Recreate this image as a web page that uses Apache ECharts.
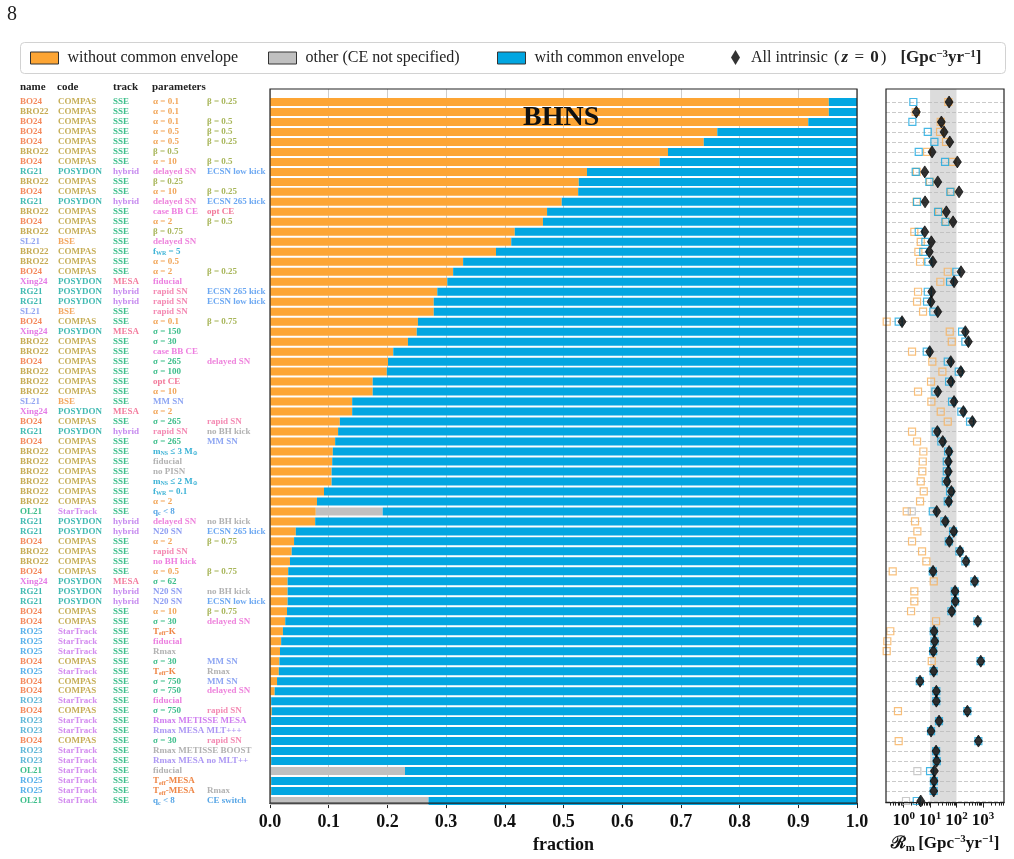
<!DOCTYPE html>
<html>
<head>
<meta charset="utf-8">
<script src="https://cdn.jsdelivr.net/npm/echarts@6/dist/echarts.min.js"></script>
<style>
  html, body { margin: 0; background: #fff; }
  #chart { width: 1014px; height: 859px; }
</style>
</head>
<body>
<div id="chart"></div>
<script>
// one entry per row, top to bottom
const names = ['BO24','BRO22','BO24','BO24','BO24','BRO22','BO24','RG21','BRO22','BO24',
  'RG21','BRO22','BO24','BRO22','SL21','BRO22','BRO22','BO24','Xing24','RG21',
  'RG21','SL21','BO24','Xing24','BRO22','BRO22','BO24','BRO22','BRO22','BRO22',
  'SL21','Xing24','BO24','RG21','BO24','BRO22','BRO22','BRO22','BRO22','BRO22',
  'BRO22','OL21','RG21','RG21','BO24','BRO22','BRO22','BO24','Xing24','RG21',
  'RG21','BO24','BO24','RO25','RO25','RO25','BO24','RO25','BO24','BO24',
  'RO23','BO24','RO23','RO23','BO24','RO23','RO23','OL21','RO25','RO25','OL21'];

const codeOf = { BO24: 'COMPAS', BRO22: 'COMPAS', RG21: 'POSYDON', Xing24: 'POSYDON',
  SL21: 'BSE', OL21: 'StarTrack', RO25: 'StarTrack', RO23: 'StarTrack' };
const trackOf = { BO24: 'SSE', BRO22: 'SSE', RG21: 'hybrid', Xing24: 'MESA',
  SL21: 'SSE', OL21: 'SSE', RO25: 'SSE', RO23: 'SSE' };

const params1 = ['α = 0.1','α = 0.1','α = 0.1','α = 0.5','α = 0.5','β = 0.5','α = 10','delayed SN','β = 0.25','α = 10',
  'delayed SN','case BB CE','α = 2','β = 0.75','delayed SN','f_{WR} = 5','α = 0.5','α = 2','fiducial','rapid SN',
  'rapid SN','rapid SN','α = 0.1','σ = 150','σ = 30','case BB CE','σ = 265','σ = 100','opt CE','α = 10',
  'MM SN','α = 2','σ = 265','rapid SN','σ = 265','m_{NS} ≤ 3 M_{⊙}','fiducial','no PISN','m_{NS} ≤ 2 M_{⊙}','f_{WR} = 0.1',
  'α = 2','q_{c} < 8','delayed SN','N20 SN','α = 2','rapid SN','no BH kick','α = 0.5','σ = 62','N20 SN',
  'N20 SN','α = 10','σ = 30','T_{eff}-K','fiducial','Rmax','σ = 30','T_{eff}-K','σ = 750','σ = 750',
  'fiducial','σ = 750','Rmax METISSE MESA','Rmax MESA MLT+++','σ = 30','Rmax METISSE BOOST','Rmax MESA no MLT++','fiducial','T_{eff}-MESA','T_{eff}-MESA','q_{c} < 8'];
const params2 = ['β = 0.25','','β = 0.5','β = 0.5','β = 0.25','','β = 0.5','ECSN low kick','','β = 0.25',
  'ECSN 265 kick','opt CE','β = 0.5','','','','','β = 0.25','','ECSN 265 kick',
  'ECSN low kick','','β = 0.75','','','','delayed SN','','','',
  '','','rapid SN','no BH kick','MM SN','','','','','',
  '','','no BH kick','ECSN 265 kick','β = 0.75','','','β = 0.75','','no BH kick',
  'ECSN low kick','β = 0.75','delayed SN','','','','MM SN','Rmax','MM SN','delayed SN',
  '','rapid SN','','','rapid SN','','','','','Rmax','CE switch'];

// fractions of the merger rate
const fracWithoutCE = [0.952,0.952,0.917,0.762,0.739,0.678,0.664,0.540,0.526,0.525,
  0.497,0.472,0.465,0.417,0.411,0.385,0.329,0.312,0.302,0.285,
  0.279,0.279,0.252,0.250,0.235,0.210,0.201,0.199,0.175,0.175,
  0.140,0.140,0.119,0.116,0.111,0.107,0.106,0.105,0.105,0.092,
  0.080,0.078,0.077,0.044,0.041,0.037,0.034,0.031,0.030,0.030,
  0.030,0.029,0.026,0.022,0.019,0.017,0.016,0.015,0.012,0.008,
  0.002,0.003,0.002,0.002,0.002,0.002,0.002,0,0.002,0.002,0];
const fracOther = [0,0,0,0,0,0,0,0,0,0, 0,0,0,0,0,0,0,0,0,0, 0,0,0,0,0,0,0,0,0,0,
  0,0,0,0,0,0,0,0,0,0, 0,0.114,0,0,0,0,0,0,0,0, 0,0,0,0,0,0,0,0,0,0,
  0,0,0,0,0,0,0,0.230,0,0,0.270];
const fracWithCE = [0.048,0.048,0.083,0.238,0.261,0.322,0.336,0.460,0.474,0.475,
  0.503,0.528,0.535,0.583,0.589,0.615,0.671,0.688,0.698,0.715,
  0.721,0.721,0.748,0.750,0.765,0.790,0.799,0.801,0.825,0.825,
  0.860,0.860,0.881,0.884,0.889,0.893,0.894,0.895,0.895,0.908,
  0.920,0.808,0.923,0.956,0.959,0.963,0.966,0.969,0.970,0.970,
  0.970,0.971,0.974,0.978,0.981,0.983,0.984,0.985,0.988,0.992,
  0.998,0.997,0.998,0.998,0.998,0.998,0.998,0.770,0.998,0.998,0.730];

// merger rates, Gpc^-3 yr^-1 (null = below the axis)
const rateWithoutCE = [49.3,2.87,25.4,23.9,40.4,7.7,70,3.13,10,62.4,
  3.1,21.9,40.4,2.54,4.44,3.61,4.18,46.8,24.5,3.51,
  3.22,5.43,0.229,55.7,66.4,2.08,12.2,29.3,10.9,3.51,
  11.2,25.4,46.8,2.08,3.22,5.57,5.29,5.1,4.44,5.77,
  4.18,1.31,2.70,3.31,2.08,4.98,7.24,0.386,13.8,2.54,
  2.54,1.91,16.9,0.313,0.241,0.229,11.6,null,null,null,
  null,0.61,null,null,0.65,null,null,null,null,null,null];
const rateOther = [null,null,null,null,null,null,null,null,null,null,
  null,null,null,null,null,null,null,null,null,null,
  null,null,null,null,null,null,null,null,null,null,
  null,null,null,null,null,null,null,null,null,null,
  null,2.03,null,null,null,null,null,null,null,null,
  null,null,null,null,null,null,null,null,null,null,
  null,null,null,null,null,null,null,3.31,null,null,1.23];
const rateWithCE = [2.33,null,2.14,8.2,14.6,3.73,37.0,2.87,9.4,58.7,
  3.22,20.1,38,3.73,6.64,5.57,8.6,99,57.2,8.2,
  7.7,13.3,0.65,163,217,7.5,46.8,122,52.5,15.9,
  68.1,153,327,16.4,26.8,48.1,43,43,39.4,57.2,
  46.8,12.7,34.8,74.3,51.1,129,217,12.7,476,86.3,
  88.5,64.1,619,13.8,14.8,13.1,820,13.6,4.1,17.2,
  17.2,258,21.8,10.9,675,16.9,17.9,10,14,13.7,3.13];
const rateTotal = [52.5,3.03,26.8,33.9,55.7,11.9,108,6.3,19.6,125,
  6.47,41.4,74.3,6.3,11.2,9.4,12.7,149,81,11.6,
  10.9,19.6,0.87,217,282,9.7,60.8,146,62.4,19.6,
  81,183,400,18.9,30.3,52.5,49.3,49.3,44,64.1,
  51.1,17.9,38,79,53.8,137,231,13.0,493,88.5,
  90.8,66.4,641,14.2,15.1,13.3,832,13.8,4.18,17.3,
  17.3,259,21.9,10.9,676,16.9,17.9,14.6,14.2,13.8,4.44];

const fracTicks = { min: 0, max: 1, step: 0.1 };
const rateRange = [0.215, 6300];
const rateTicks = [1, 10, 100, 1000];
const bandRange = [10, 100];

const FONT = "'Liberation Serif', 'DejaVu Serif', serif";
const ORANGE = '#fda534', GRAY = '#c0c0c0', BLUE = '#02a6e1';
const rows = names.map((_, i) => String(i));

const palette = {
  bo24: '#f4895c', bro22: '#c6ab53', rg21: '#41bab2', sl21: '#93a6f2', xing24: '#e47be6',
  ol21: '#3dbe8b', ro25: '#56b0ea', ro23: '#5db6d8',
  compas: '#c7af58', posydon: '#41bab2', bse: '#f3a65e', startrack: '#d38cef',
  sse: '#3dbe8b', hybrid: '#c68bef', mesa: '#f47e9f',
  alpha: '#f2a659', beta: '#a8b65a', sigma: '#3dbe8b', delayed: '#ee84dc', rapid: '#f48ab3',
  ecsn: '#6ca8f2', casebb: '#ee7ee0', optce: '#f2799a', mm: '#8ea6f3', cyan: '#3cb3d6',
  qc: '#58a6e6', grey: '#b2b2b2', n20: '#8e9ef3', teff: '#ef8646', pinkfid: '#eb7edf',
  rmaxv: '#cf7ff0', rmaxl: '#ad98f4'
};

function paramKey(text, name) {
  if (text.startsWith('α')) return 'alpha';
  if (text.startsWith('β')) return 'beta';
  if (text.startsWith('σ')) return 'sigma';
  if (text.startsWith('delayed')) return 'delayed';
  if (text.startsWith('rapid')) return 'rapid';
  if (text.startsWith('ECSN')) return 'ecsn';
  if (text.startsWith('case')) return 'casebb';
  if (text.startsWith('opt')) return 'optce';
  if (text.startsWith('MM')) return 'mm';
  if (text.startsWith('f_') || text.startsWith('m_')) return 'cyan';
  if (text.startsWith('q_') || text === 'CE switch') return 'qc';
  if (text.startsWith('N20')) return 'n20';
  if (text.startsWith('T_')) return 'teff';
  if (text === 'no BH kick') return name === 'BRO22' ? 'casebb' : 'grey';
  if (text === 'fiducial') return (name === 'BRO22' || name === 'OL21') ? 'grey' : 'pinkfid';
  if (text === 'Rmax METISSE MESA') return 'rmaxv';
  if (text.startsWith('Rmax MESA')) return 'rmaxl';
  return 'grey';
}

const rich = {};
Object.keys(palette).forEach(k => {
  rich[k] = { color: palette[k], fontFamily: FONT, fontSize: 9, fontWeight: 'bold', lineHeight: 10 };
  rich[k + '_s'] = { color: palette[k], fontFamily: FONT, fontSize: 6, fontWeight: 'bold',
    lineHeight: 10, verticalAlign: 'bottom' };
});

// "T_{eff}-K" -> rich tokens with a subscript
function tok(text, key) {
  if (!text) return '';
  return text.split(/_\{([^}]*)\}/)
    .map((part, j) => part ? `{${j % 2 ? key + '_s' : key}|${part}}` : '')
    .join('');
}

function columnAxis(offset, fn) {
  return {
    type: 'category', gridIndex: 1, data: rows, inverse: true, position: 'left', offset: offset,
    axisLine: { show: false }, axisTick: { show: false }, splitLine: { show: false },
    axisLabel: { interval: 0, align: 'left', margin: 0, formatter: (v, i) => fn(i), rich: rich }
  };
}

const minorTicks = [];
[0.1, 1, 10, 100, 1000].forEach(d => {
  for (let k = 2; k <= 9; k++) {
    const v = k * d;
    if (v > rateRange[0] && v < rateRange[1]) minorTicks.push(v);
  }
});

function rateSeries(name, values, color) {
  return {
    type: 'scatter', name: name, xAxisIndex: 4, yAxisIndex: 7, symbol: 'rect', symbolSize: 7,
    silent: true, z: 3,
    itemStyle: { color: 'rgba(0,0,0,0)', borderColor: color, borderWidth: 1.2 },
    data: values.map((v, i) => [v, i]).filter(d => d[0] != null)
  };
}

const legendBase = {
  top: 50, padding: 0, itemWidth: 28, itemHeight: 12, icon: 'rect', selectedMode: false,
  itemStyle: { borderColor: '#333', borderWidth: 1 },
  textStyle: { fontFamily: FONT, fontSize: 16, color: '#222', padding: [0, 0, 0, 4] }
};

const chart = echarts.init(document.getElementById('chart'));

chart.setOption({
  animation: false,
  backgroundColor: '#fff',
  grid: [
    { left: 270, right: 157, top: 89, bottom: 49, show: true, z: 10,
      backgroundColor: 'transparent', borderColor: '#222', borderWidth: 1.2 },
    { left: 270, right: 157, top: 97, height: 709 },
    { left: 886, right: 10, top: 89, bottom: 49, show: true, z: 10,
      backgroundColor: 'transparent', borderColor: '#222', borderWidth: 1.2 },
    { left: 886, right: 10, top: 102, height: 699 }
  ],
  xAxis: [
    { type: 'value', gridIndex: 0, min: fracTicks.min, max: fracTicks.max, interval: fracTicks.step,
      axisLine: { show: true, lineStyle: { color: '#222', width: 1.2 } },
      axisTick: { show: true, length: 5, lineStyle: { color: '#222' } },
      axisLabel: { fontFamily: FONT, fontSize: 18, fontWeight: 'bold', color: '#111', margin: 10,
        formatter: v => v.toFixed(1) },
      splitLine: { show: true, lineStyle: { color: '#cdcdcd', width: 1 } },
      name: 'fraction', nameLocation: 'middle', nameGap: 31,
      nameTextStyle: { fontFamily: FONT, fontSize: 18, fontWeight: 'bold', color: '#111' } },
    { type: 'value', gridIndex: 1, min: 0, max: 1, show: false },
    { type: 'log', gridIndex: 2, min: rateRange[0], max: rateRange[1], position: 'bottom',
      axisLine: { show: true, lineStyle: { color: '#222', width: 1.2 } },
      axisTick: { show: true, length: 5, customValues: rateTicks, lineStyle: { color: '#222' } },
      axisLabel: { customValues: rateTicks, margin: 8,
        formatter: v => `{b|10}{s|${Math.round(Math.log10(v))}}`,
        rich: {
          b: { fontFamily: FONT, fontSize: 17, fontWeight: 'bold', color: '#111', lineHeight: 20 },
          s: { fontFamily: FONT, fontSize: 11, fontWeight: 'bold', color: '#111', verticalAlign: 'top', lineHeight: 14 }
        } },
      splitLine: { show: false },
      name: '{b|ℛ}{sub|m} {b|[Gpc}{sup|−3}{b|yr}{sup|−1}{b|]}',
      nameLocation: 'middle', nameGap: 31,
      nameTextStyle: { rich: {
        b: { fontFamily: FONT, fontSize: 17, fontWeight: 'bold', color: '#111', lineHeight: 20 },
        sub: { fontFamily: FONT, fontSize: 11, fontWeight: 'bold', color: '#111', verticalAlign: 'bottom', lineHeight: 14 },
        sup: { fontFamily: FONT, fontSize: 11, fontWeight: 'bold', color: '#111', verticalAlign: 'top', lineHeight: 14 }
      } } },
    { type: 'log', gridIndex: 2, min: rateRange[0], max: rateRange[1], position: 'bottom',
      axisLine: { show: false }, axisLabel: { show: false }, splitLine: { show: false },
      axisTick: { show: true, length: 3, customValues: minorTicks, lineStyle: { color: '#222' } } },
    { type: 'log', gridIndex: 3, min: rateRange[0], max: rateRange[1], show: false }
  ],
  yAxis: [
    { type: 'value', gridIndex: 0, min: 0, max: 1, show: false },
    columnAxis(250, i => tok(names[i], names[i].toLowerCase())),
    columnAxis(212, i => tok(codeOf[names[i]], codeOf[names[i]].toLowerCase())),
    columnAxis(157, i => tok(trackOf[names[i]], trackOf[names[i]].toLowerCase())),
    columnAxis(117, i => tok(params1[i], paramKey(params1[i], names[i]))),
    columnAxis(63, i => params2[i] ? tok(params2[i], paramKey(params2[i], names[i])) : ''),
    { type: 'value', gridIndex: 2, min: 0, max: 1, show: false },
    { type: 'category', gridIndex: 3, data: rows, inverse: true, boundaryGap: false,
      axisLine: { show: false }, axisTick: { show: false }, axisLabel: { show: false },
      splitLine: { show: true, interval: 0, lineStyle: { color: '#bdbdbd', width: 0.8, type: [4, 2] } } }
  ],
  legend: [
    Object.assign({}, legendBase, { left: 30, data: ['without common envelope'] }),
    Object.assign({}, legendBase, { left: 268, data: ['other (CE not specified)'] }),
    Object.assign({}, legendBase, { left: 497, data: ['with common envelope'] }),
    Object.assign({}, legendBase, {
      left: 731, top: 49, data: ['All intrinsic'], icon: 'diamond', itemWidth: 9, itemHeight: 15,
      itemStyle: { borderWidth: 0 },
      formatter: () => 'All intrinsic {r|(}{zb|z}{r| = }{b|0}{r|)}   {b|[Gpc}{s|−3}{b|yr}{s|−1}{b|]}',
      textStyle: { fontFamily: FONT, fontSize: 16, color: '#222', padding: [0, 0, 0, 6],
        rich: {
          r: { fontFamily: FONT, fontSize: 17, color: '#222', padding: [0, 2, 0, 2] },
          zb: { fontFamily: FONT, fontSize: 17, fontWeight: 'bold', fontStyle: 'italic', color: '#222' },
          b: { fontFamily: FONT, fontSize: 17, fontWeight: 'bold', color: '#222' },
          s: { fontFamily: FONT, fontSize: 11, fontWeight: 'bold', color: '#222', verticalAlign: 'top', lineHeight: 12 }
        } }
    })
  ],
  graphic: [
    { type: 'text', left: 7, top: 5, style: { text: '8', fontFamily: FONT, fontSize: 20, fill: '#222' } },
    { type: 'rect', left: 20, top: 42, z: -1,
      shape: { width: 985, height: 31, r: 4 }, style: { fill: '#fff', stroke: '#d2d2d2', lineWidth: 1 } },
    { type: 'text', left: 20, top: 82, style: { text: 'name', fontFamily: FONT, fontSize: 11, fontWeight: 'bold', fill: '#222' } },
    { type: 'text', left: 57, top: 82, style: { text: 'code', fontFamily: FONT, fontSize: 11, fontWeight: 'bold', fill: '#222' } },
    { type: 'text', left: 113, top: 82, style: { text: 'track', fontFamily: FONT, fontSize: 11, fontWeight: 'bold', fill: '#222' } },
    { type: 'text', left: 152, top: 82, style: { text: 'parameters', fontFamily: FONT, fontSize: 11, fontWeight: 'bold', fill: '#222' } },
    { type: 'text', left: 523, top: 104, z: 100,
      style: { text: 'BHNS', fontFamily: FONT, fontSize: 28, fontWeight: 'bold', fill: '#111' } }
  ],
  series: [
    { type: 'bar', name: 'without common envelope', stack: 'frac', xAxisIndex: 1, yAxisIndex: 1,
      barWidth: 8, silent: true, itemStyle: { color: ORANGE }, data: fracWithoutCE },
    { type: 'bar', name: 'other (CE not specified)', stack: 'frac', xAxisIndex: 1, yAxisIndex: 1,
      barWidth: 8, silent: true, itemStyle: { color: GRAY }, data: fracOther },
    { type: 'bar', name: 'with common envelope', stack: 'frac', xAxisIndex: 1, yAxisIndex: 1,
      barWidth: 8, silent: true, itemStyle: { color: BLUE }, data: fracWithCE },
    { type: 'scatter', name: 'band', xAxisIndex: 2, yAxisIndex: 6, symbolSize: 0, silent: true,
      data: [[bandRange[0], 0.5]], z: 1,
      markArea: { silent: true, itemStyle: { color: 'rgba(185,185,185,0.5)' },
        data: [[{ xAxis: bandRange[0] }, { xAxis: bandRange[1] }]] } },
    rateSeries('rate without CE', rateWithoutCE, '#f7b05a'),
    rateSeries('rate other', rateOther, '#bdbdbd'),
    rateSeries('rate with CE', rateWithCE, '#18a6df'),
    { type: 'scatter', name: 'All intrinsic', xAxisIndex: 4, yAxisIndex: 7, symbol: 'diamond',
      symbolSize: [8, 12], silent: true, z: 5,
      itemStyle: { color: '#000', borderColor: '#000', borderWidth: 0.8 },
      data: rateTotal.map((v, i) => [v, i]) }
  ]
});
</script>
</body>
</html>
